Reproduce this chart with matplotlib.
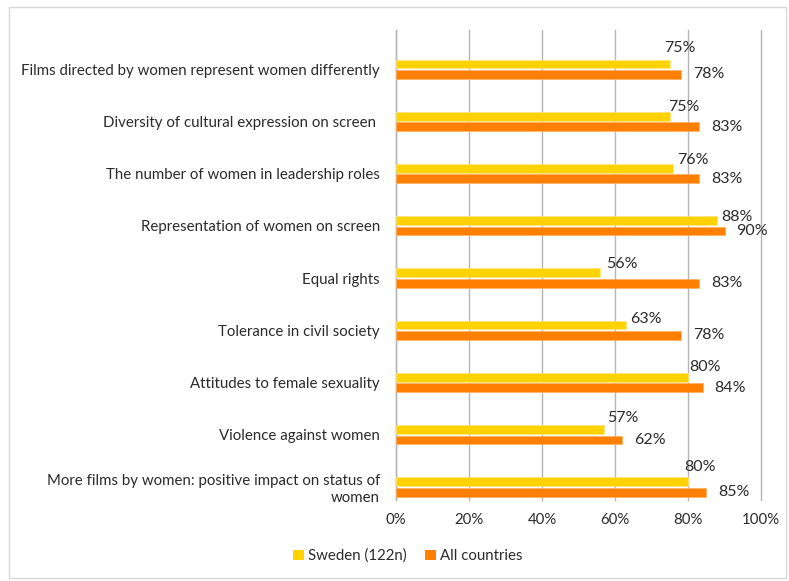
import matplotlib
matplotlib.use("Agg")
import matplotlib.pyplot as plt
from matplotlib.patches import Patch, Rectangle
from matplotlib.ticker import FuncFormatter

# Survey statements (top to bottom)
categories = [
    "Films directed by women represent women differently",
    "Diversity of cultural expression on screen ",
    "The number of women in leadership roles",
    "Representation of women on screen",
    "Equal rights",
    "Tolerance in civil society",
    "Attitudes to female sexuality",
    "Violence against women",
    "More films by women: positive impact on status of\nwomen",
]
sweden = [75, 75, 76, 88, 56, 63, 80, 57, 80]
all_countries = [78, 83, 83, 90, 83, 78, 84, 62, 85]
series_names = ["Sweden (122n)", "All countries"]
x_ticks = [0, 20, 40, 60, 80, 100]

# hand-placed label nudges for the Sweden series (pixels: right, up)
sweden_label_nudge = [(-6, 16), (-2, 9), (4, 8), (4, 4), (6, 9),
                      (4, 6.5), (1, 10), (3, 12), (-4, 15)]

YELLOW = "#FFD200"
ORANGE = "#FF8000"
GRID = "#B5B5B5"
TEXT = "#2b2b2b"
FONT = "Lato"

plt.rcParams["font.family"] = [FONT, "DejaVu Sans"]

W, H = 789, 581
fig = plt.figure(figsize=(W / 100, H / 100), dpi=100)

# light outer frame
fig.patches.append(Rectangle((9 / W, 3 / H), 777 / W, 571 / H, transform=fig.transFigure,
                             fill=False, edgecolor="#D9D9D9", linewidth=1))

ax = fig.add_axes([396 / W, 1 - 500 / H, 365 / W, 470 / H])

n = len(categories)
idx = list(range(n))
y_sw = [i + 0.15 for i in idx]
y_all = [i + 0.35 for i in idx]
bar_h = 0.17

ax.barh(y_sw, sweden, height=bar_h, color=YELLOW, edgecolor="#FFE680", linewidth=0.5, zorder=3)
ax.barh(y_all, all_countries, height=bar_h, color=ORANGE, edgecolor="#FFB060", linewidth=0.5, zorder=3)

for v, y, (dx, dy) in zip(sweden, y_sw, sweden_label_nudge):
    ax.annotate(f"{v}%", xy=(v, y), xytext=(dx, dy), textcoords="offset pixels",
                ha="left", va="center", fontsize=11.5, color=TEXT)
for v, y in zip(all_countries, y_all):
    ax.annotate(f"{v}%", xy=(v, y), xytext=(12, 0), textcoords="offset pixels",
                ha="left", va="center", fontsize=11.5, color=TEXT)

ax.set_xlim(0, 100)
ax.set_ylim(n - 0.5, -0.5)
ax.set_xticks(x_ticks)
ax.xaxis.set_major_formatter(FuncFormatter(lambda v, _: f"{v:.0f}%"))
ax.set_yticks([i + 0.25 for i in idx])
ax.set_yticklabels(categories, ha="right", multialignment="right")
ax.tick_params(axis="y", length=0, pad=11.5, labelsize=10.8, labelcolor=TEXT)
ax.tick_params(axis="x", length=0, pad=9, labelsize=10.8, labelcolor=TEXT)

ax.grid(axis="x", color=GRID, linewidth=1.0, zorder=0)
for gl in ax.get_xgridlines():
    gl.set_clip_on(False)
ax.set_axisbelow(True)
for side in ("top", "right", "bottom"):
    ax.spines[side].set_visible(False)
ax.spines["left"].set_color(GRID)
ax.spines["left"].set_linewidth(1.0)

handles = [Patch(facecolor=YELLOW, edgecolor="none"), Patch(facecolor=ORANGE, edgecolor="none")]
fig.legend(handles, series_names, loc="center", bbox_to_anchor=(408 / W, 1 - 556 / H),
           ncol=2, frameon=False, handlelength=0.7, handleheight=0.7, handletextpad=0.3,
           columnspacing=1.2, fontsize=10.8, labelcolor=TEXT)

fig.savefig("out.png", dpi=100)
